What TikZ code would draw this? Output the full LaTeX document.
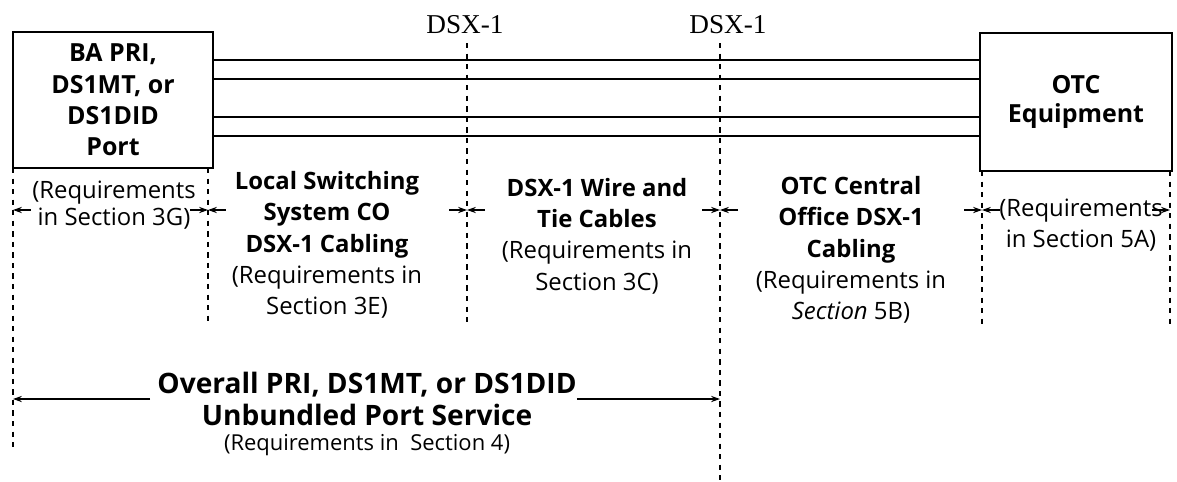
\documentclass[tikz,border=0pt]{standalone}
\usepackage{fontspec}
\setmainfont{Open Sans}
\newfontfamily\dsxfont{Liberation Serif}
\usetikzlibrary{arrows.meta}
\tikzset{
  unit/.style={draw, line width=1pt, align=center, inner sep=0pt,
    font=\bfseries\fontsize{14.2}{17.8}\selectfont},
  seg/.style={align=center, inner sep=0pt, font=\fontsize{13.6}{17.8}\selectfont},
  dsx/.style={inner sep=0pt, font=\dsxfont\fontsize{15.5}{17}\selectfont},
  bnd/.style={line width=0.6pt, dash pattern=on 3pt off 3pt},
  tip/.style={-{Stealth[length=5pt,width=3.5pt]}, line width=0.8pt},
}
\begin{document}
\begin{tikzpicture}[x=0.02cm,y=-0.02cm]
                \useasboundingbox (0,0) rectangle (1177,481);
                % end equipment
                \node[unit, minimum width=4cm, minimum height=2.72cm] (port) at (113,100) {BA PRI,\\DS1MT, or\\DS1DID\\Port};
                \node[unit, minimum width=3.84cm, minimum height=2.76cm, font=\bfseries\fontsize{14.2}{16}\selectfont] (otc) at (1076,102) {OTC\\Equipment};
                \foreach \y in {60,79,117,136}
                    \draw[line width=1pt] (port.east |- 0,\y) -- (otc.west |- 0,\y);
                \node[dsx] (dsxa) at (465,25) {DSX-1};
                \node[dsx] (dsxb) at (728,25) {DSX-1};
                % section boundaries
                \foreach \x/\ya/\yb in {13/168/452, 208/168/323, 467/43/323, 720/43/481, 982/171/325, 1170/171/325}
                    \draw[bnd] (\x,\ya) -- (\x,\yb);
                \foreach \n/\x in {0/13,1/208,2/467,3/720,4/982,5/1170}
                    \coordinate (b\n) at (\x,210);
                \draw[tip] ([xshift=0.36cm]b0) -- (b0);
                \foreach \n in {1,2,3,4} {
                    \draw[tip] ([xshift=-0.36cm]b\n) -- (b\n);
                    \draw[tip] ([xshift=0.36cm]b\n) -- (b\n);
                }
                \draw[tip] ([xshift=-0.36cm]b5) -- (b5);
                % segment labels
                \node[seg, font=\fontsize{13.6}{15.5}\selectfont] (sga) at (114,205) {(Requirements\\in Section 3G)};
                \node[seg] (sgb) at (327,245) {\textbf{Local Switching}\\\textbf{System CO}\\\textbf{DSX-1 Cabling}\\(Requirements in\\Section 3E)};
                \node[seg] (sgc) at (597,236) {\textbf{DSX-1 Wire and}\\\textbf{Tie Cables}\\(Requirements in\\Section 3C)};
                \node[seg] (sgd) at (851,250) {\textbf{OTC Central}\\\textbf{Office DSX-1}\\\textbf{Cabling}\\(Requirements in\\\textit{Section} 5B)};
                \node[seg] (sge) at (1081,225) {(Requirements\\in Section 5A)};
                % overall service
                \node[seg, font=\bfseries\fontsize{16}{18}\selectfont] (ovr) at (367,399) {Overall PRI, DS1MT, or DS1DID\\Unbundled Port Service};
                \node[seg, font=\fontsize{12.5}{14}\selectfont] (sec) at (367,445) {(Requirements in~~Section 4)};
                \coordinate (ovl) at (13,399);
                \coordinate (ovr-end) at (720,399);
                \draw[tip] ([xshift=-4pt]ovr.west) -- (ovl);
                \draw[tip] (ovr.east) -- (ovr-end);
            \end{tikzpicture}
\end{document}
